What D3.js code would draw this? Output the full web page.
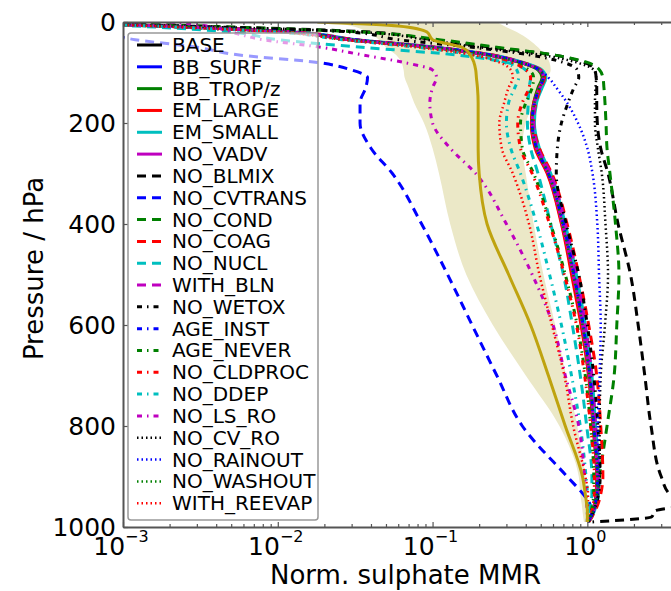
<!DOCTYPE html>
<html lang="en">
<head>
<meta charset="UTF-8">
<title>Normalised sulphate profiles</title>
<script src="https://d3js.org/d3.v7.min.js"></script>
<style>
  body { margin: 0; background: #fff; }
  svg { display: block; font-family: "DejaVu Sans", sans-serif; }
  .axis path.domain { stroke: #555; stroke-width: 2; }
  .axis line { stroke: #555; stroke-width: 1.2; }
</style>
</head>
<body>
<svg width="671" height="591"></svg>
<script>
// pressure levels (hPa) shared by every profile
const levels = [0, 8, 20, 35, 50, 65, 80, 95, 110, 130, 160, 200, 250, 300, 400, 500, 600, 700, 800, 900, 935, 955, 968, 980, 990];

// normalised sulphate MMR per experiment, one value per level
const base      = [0.0003,0.0018,0.012,0.03,0.1,0.23,0.37,0.49,0.52,0.49,0.455,0.44,0.47,0.56,0.69,0.81,0.93,1.03,1.1,1.16,1.15,1.12,1.09,1.05,1.01];
const bbSurf    = [0.0003,0.0019,0.012,0.031,0.1,0.235,0.38,0.5,0.53,0.5,0.46,0.445,0.475,0.565,0.7,0.82,0.94,1.04,1.11,1.17,1.16,1.13,1.1,1.06,1.01];
const bbTrop    = [0.0003,0.0017,0.011,0.029,0.095,0.225,0.365,0.48,0.51,0.48,0.45,0.435,0.465,0.555,0.685,0.8,0.92,1.02,1.09,1.15,1.14,1.11,1.08,1.04,1.0];
const emLarge   = [0.0003,0.0018,0.012,0.03,0.1,0.23,0.37,0.49,0.52,0.49,0.45,0.435,0.46,0.55,0.68,0.79,0.91,1.02,1.09,1.15,1.14,1.11,1.08,1.04,1.0];
const emSmall   = [0.0003,0.0019,0.013,0.032,0.105,0.24,0.385,0.51,0.54,0.51,0.47,0.455,0.49,0.58,0.72,0.85,0.97,1.07,1.13,1.19,1.18,1.15,1.11,1.07,1.02];
const noVadv    = [0.0003,0.0018,0.012,0.03,0.1,0.23,0.37,0.495,0.525,0.495,0.455,0.44,0.47,0.56,0.69,0.81,0.93,1.03,1.1,1.16,1.15,1.12,1.09,1.05,1.01];
const noBlmix   = [0.0004,0.003,0.04,0.1,0.24,0.6,0.95,1.12,1.14,1.15,1.15,1.16,1.22,1.36,1.58,1.9,2.13,2.35,2.58,3.0,3.4,4.6,2.75,2.6,1.08];
const noCvtrans = [0.0003,0.0004,0.0007,0.0012,0.003,0.0055,0.018,0.03,0.038,0.037,0.034,0.034,0.04,0.055,0.085,0.125,0.18,0.26,0.38,0.74,0.94,1.04,1.06,1.04,1.0];
const noCond    = [0.0004,0.003,0.035,0.11,0.26,0.6,1.0,1.2,1.26,1.28,1.3,1.32,1.34,1.4,1.52,1.6,1.55,1.49,1.34,1.2,1.16,1.13,1.1,1.06,1.02];
const noCoag    = [0.0003,0.0019,0.013,0.032,0.105,0.24,0.38,0.5,0.53,0.5,0.465,0.45,0.49,0.59,0.74,0.88,1.02,1.15,1.22,1.26,1.22,1.17,1.12,1.07,1.02];
const noNucl    = [0.0003,0.0012,0.005,0.01,0.035,0.14,0.3,0.4,0.43,0.42,0.415,0.41,0.43,0.48,0.58,0.7,0.8,0.9,0.99,1.07,1.07,1.05,1.03,1.02,1.0];
const withBln   = [0.0003,0.0018,0.012,0.03,0.1,0.23,0.37,0.49,0.52,0.49,0.46,0.45,0.48,0.58,0.72,0.85,0.97,1.07,1.13,1.18,1.16,1.13,1.1,1.06,1.01];
const noWetox   = [0.0003,0.0025,0.03,0.06,0.18,0.42,0.7,0.86,0.88,0.82,0.75,0.68,0.64,0.63,0.73,0.88,1.0,1.1,1.17,1.21,1.18,1.14,1.1,1.05,1.01];
const ageInst   = [0.0003,0.0018,0.012,0.031,0.1,0.232,0.372,0.49,0.52,0.49,0.455,0.44,0.47,0.56,0.7,0.82,0.94,1.04,1.1,1.16,1.15,1.12,1.09,1.05,1.01];
const ageNever  = [0.0003,0.0016,0.011,0.028,0.09,0.2,0.33,0.42,0.45,0.44,0.4,0.37,0.38,0.45,0.58,0.72,0.86,0.97,1.05,1.1,1.1,1.08,1.06,1.03,1.0];
const noCldproc = [0.0003,0.0016,0.011,0.027,0.085,0.19,0.32,0.4,0.43,0.42,0.38,0.355,0.37,0.44,0.57,0.71,0.85,0.96,1.05,1.11,1.11,1.09,1.07,1.03,1.0];
const noDdep    = [0.0003,0.0015,0.01,0.026,0.08,0.18,0.29,0.35,0.36,0.34,0.31,0.3,0.32,0.37,0.47,0.57,0.68,0.79,0.9,0.98,1.0,1.0,1.0,1.0,1.0];
const noLsRo    = [0.002,0.0035,0.005,0.008,0.019,0.035,0.065,0.1,0.106,0.1,0.096,0.1,0.13,0.19,0.3,0.44,0.6,0.72,0.88,0.96,0.98,0.99,1.0,1.0,1.0];
const noCvRo    = [0.0003,0.0025,0.035,0.09,0.2,0.5,0.85,1.1,1.14,1.13,1.12,1.12,1.17,1.24,1.31,1.36,1.3,1.22,1.2,1.2,1.17,1.13,1.1,1.06,1.01];
const noRainout = [0.0003,0.0018,0.012,0.03,0.1,0.23,0.37,0.49,0.56,0.63,0.74,0.87,1.0,1.08,1.16,1.19,1.22,1.2,1.17,1.18,1.16,1.13,1.1,1.06,1.01];
const noWashout = [0.0003,0.0018,0.012,0.03,0.1,0.23,0.37,0.49,0.52,0.49,0.455,0.44,0.47,0.56,0.69,0.81,0.93,1.03,1.1,1.16,1.15,1.12,1.09,1.05,1.01];
const withReevap= [0.0003,0.0015,0.01,0.026,0.08,0.18,0.27,0.32,0.33,0.31,0.29,0.27,0.28,0.33,0.42,0.49,0.59,0.71,0.81,0.97,1.01,1.01,1.0,1.0,1.0];

// observations: median line and spread band
const obsMedian = [0.018,0.06,0.092,0.1,0.155,0.175,0.185,0.19,0.192,0.195,0.197,0.197,0.197,0.2,0.225,0.31,0.43,0.56,0.72,0.93,0.97,0.99,1.0,1.0,1.0];
const obsLow    = [0.022,0.03,0.038,0.045,0.05,0.058,0.063,0.065,0.066,0.07,0.076,0.088,0.1,0.11,0.13,0.165,0.245,0.4,0.66,0.88,0.9,0.92,0.93,0.94,0.95];
const obsHigh   = [0.26,0.29,0.35,0.42,0.48,0.53,0.57,0.58,0.55,0.5,0.45,0.4,0.38,0.4,0.45,0.52,0.62,0.73,0.86,0.97,0.99,1.0,1.0,1.0,1.0];

const seriesNames = ["BASE","BB_SURF","BB_TROP/z","EM_LARGE","EM_SMALL","NO_VADV",
  "NO_BLMIX","NO_CVTRANS","NO_COND","NO_COAG","NO_NUCL","WITH_BLN",
  "NO_WETOX","AGE_INST","AGE_NEVER","NO_CLDPROC","NO_DDEP","NO_LS_RO",
  "NO_CV_RO","NO_RAINOUT","NO_WASHOUT","WITH_REEVAP"];
const seriesValues = [base,bbSurf,bbTrop,emLarge,emSmall,noVadv,
  noBlmix,noCvtrans,noCond,noCoag,noNucl,withBln,
  noWetox,ageInst,ageNever,noCldproc,noDdep,noLsRo,
  noCvRo,noRainout,noWashout,withReevap];

const xTicks = [1e-3, 1e-2, 1e-1, 1];
const yTicks = [0, 200, 400, 600, 800, 1000];

const palette = ["#000000", "#0000ff", "#008000", "#ff0000", "#00bfbf", "#bf00bf"];
const dashes = {solid: null, dashed: "9,6", dashdot: "5,5,1.5,5", dotted: "1.5,3"};
const styleOf = i => i < 6 ? "solid" : i < 12 ? "dashed" : i < 18 ? "dashdot" : "dotted";

const svg = d3.select("svg");
const plotLeft = 123, plotRight = 688, plotTop = 22, plotBottom = 527;

const x = d3.scaleLog().domain([1e-3, 4.47]).range([plotLeft, plotRight]);
const y = d3.scaleLinear().domain([0, 1000]).range([plotTop, plotBottom]);

svg.append("clipPath").attr("id", "plotclip")
  .append("rect").attr("x", plotLeft).attr("y", plotTop)
  .attr("width", plotRight - plotLeft).attr("height", plotBottom - plotTop);

const plot = svg.append("g").attr("clip-path", "url(#plotclip)");

// spread of observations
const band = d3.area()
  .y(d => y(d.p))
  .x0(d => x(d.lo))
  .x1(d => x(d.hi))
  .curve(d3.curveMonotoneY);

plot.append("path")
  .datum(levels.map((p, i) => ({p: p, lo: obsLow[i], hi: obsHigh[i]})))
  .attr("d", band)
  .attr("fill", "#ebe8c7");

const line = d3.line()
  .x(d => x(d.v))
  .y(d => y(d.p))
  .curve(d3.curveMonotoneY);

seriesValues.forEach((vals, i) => {
  const st = styleOf(i);
  plot.append("path")
    .datum(levels.map((p, j) => ({p: p, v: vals[j]})))
    .attr("d", line)
    .attr("fill", "none")
    .attr("stroke", palette[i % 6])
    .attr("stroke-width", st === "dotted" ? 2.5 : 3)
    .attr("stroke-dasharray", dashes[st]);
});

plot.append("path")
  .datum(levels.map((p, j) => ({p: p, v: obsMedian[j]})))
  .attr("d", line)
  .attr("fill", "none")
  .attr("stroke", "#bfa30f")
  .attr("stroke-width", 3);

// axes
const minors = [];
for (let e = -3; e <= 0; e++) {
  for (let k = 2; k <= 9; k++) minors.push(k * Math.pow(10, e));
}

svg.append("g").attr("class", "axis")
  .attr("transform", `translate(0,${plotBottom})`)
  .call(d3.axisBottom(x).tickValues(xTicks).tickFormat("").tickSize(-5).tickSizeOuter(0));
svg.append("g").attr("class", "axis")
  .attr("transform", `translate(0,${plotBottom})`)
  .call(d3.axisBottom(x).tickValues(minors.filter(v => x(v) < 671)).tickFormat("").tickSize(-3).tickSizeOuter(0))
  .select(".domain").remove();
svg.append("g").attr("class", "axis")
  .attr("transform", `translate(0,${plotTop})`)
  .call(d3.axisTop(x).tickValues(xTicks).tickFormat("").tickSize(-5).tickSizeOuter(0));
svg.append("g").attr("class", "axis")
  .attr("transform", `translate(0,${plotTop})`)
  .call(d3.axisTop(x).tickValues(minors.filter(v => x(v) < 671)).tickFormat("").tickSize(-3).tickSizeOuter(0))
  .select(".domain").remove();

const yAxis = svg.append("g").attr("class", "axis")
  .attr("transform", `translate(${plotLeft},0)`)
  .call(d3.axisLeft(y).tickValues(yTicks).tickFormat(d3.format("d"))
    .tickSize(-5).tickSizeOuter(0).tickPadding(7));
yAxis.selectAll("text")
  .attr("font-size", 25)
  .attr("font-family", "DejaVu Sans")
  .attr("fill", "#000");

// x tick labels as powers of ten
xTicks.forEach(v => {
  const t = svg.append("text")
    .attr("x", x(v) - 2)
    .attr("y", 555)
    .attr("text-anchor", "middle")
    .attr("font-size", 25);
  t.append("tspan").text("10");
  t.append("tspan").attr("font-size", 16).attr("dy", -13)
    .text(Math.log10(v) < 0 ? "\u2212" + Math.abs(Math.round(Math.log10(v))) : "0");
});

svg.append("text")
  .attr("x", 405.5).attr("y", 584)
  .attr("text-anchor", "middle")
  .attr("font-size", 26)
  .text("Norm. sulphate MMR");

svg.append("text")
  .attr("transform", "translate(43,268.5) rotate(-90)")
  .attr("text-anchor", "middle")
  .attr("font-size", 26)
  .text("Pressure / hPa");

// legend
const legend = svg.append("g");
legend.append("rect")
  .attr("x", 128).attr("y", 33)
  .attr("width", 190).attr("height", 487)
  .attr("rx", 3)
  .attr("fill", "#fff").attr("fill-opacity", 0.6)
  .attr("stroke", "#999").attr("stroke-width", 1.5);

seriesNames.forEach((name, i) => {
  const cy = 45 + i * 21.82;
  const st = styleOf(i);
  legend.append("line")
    .attr("x1", 137).attr("x2", 162)
    .attr("y1", cy).attr("y2", cy)
    .attr("stroke", palette[i % 6])
    .attr("stroke-width", st === "dotted" ? 2.5 : 3)
    .attr("stroke-dasharray", dashes[st]);
  legend.append("text")
    .attr("x", 172).attr("y", cy)
    .attr("dominant-baseline", "central")
    .attr("font-size", 20)
    .text(name);
});
</script>
</body>
</html>
